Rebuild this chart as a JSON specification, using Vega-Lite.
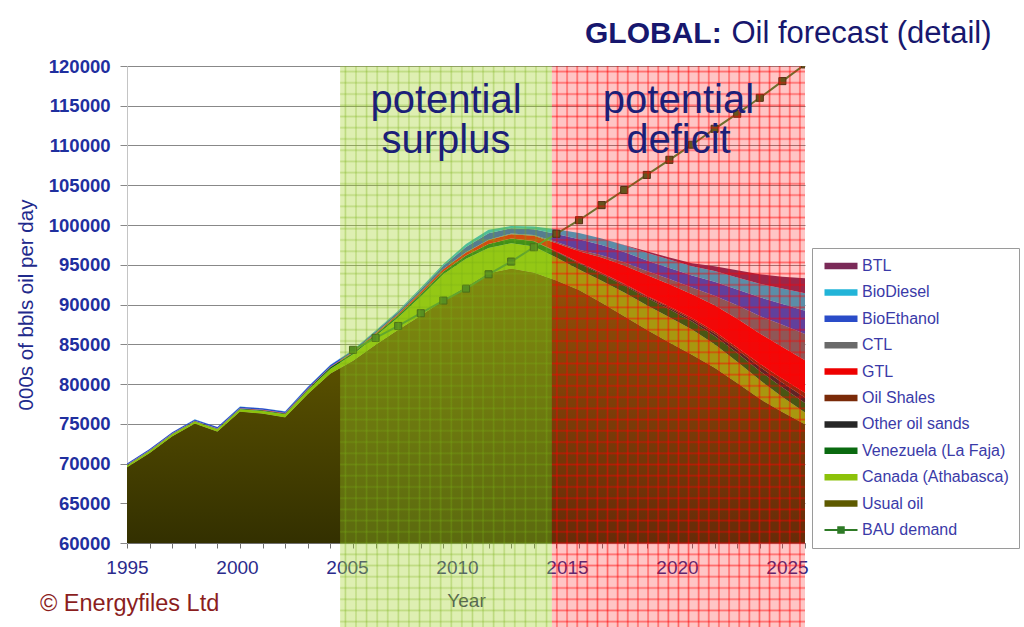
{
  "$schema": "https://vega.github.io/schema/vega-lite/v6.json",
  "width": 678,
  "height": 477,
  "autosize": {"type": "none"},
  "padding": {"left": 127, "top": 66, "right": 219, "bottom": 84},
  "background": "#ffffff",
  "config": {
    "view": {"stroke": null},
    "font": "Liberation Sans",
    "axis": {"labelFont": "Liberation Sans", "titleFont": "Liberation Sans"},
    "legend": {"labelFont": "Liberation Sans"}
  },
  "title": {
    "text": "GLOBAL:",
    "subtitle": "\u200b\u00a0\u00a0\u00a0\u00a0\u00a0\u00a0\u00a0\u00a0\u00a0\u00a0\u00a0\u00a0\u00a0\u00a0\u00a0\u00a0\u00a0Oil forecast (detail)",
    "anchor": "start",
    "frame": "group",
    "dx": 458,
    "offset": 7,
    "font": "Liberation Sans",
    "fontSize": 30,
    "fontWeight": "bold",
    "color": "#17176e",
    "subtitleFont": "Liberation Sans",
    "subtitleFontSize": 31,
    "subtitleFontWeight": "normal",
    "subtitleColor": "#17176e",
    "subtitlePadding": -30
  },
  "resolve": {"axis": {"x": "independent", "y": "independent"}},
  "datasets": {
    "supply": [
      {"year": 1995, "Usual oil": 69500, "Canada (Athabasca)": 250, "Venezuela (La Faja)": 50, "Other oil sands": 0, "Oil Shales": 0, "GTL": 40, "CTL": 0, "BioEthanol": 150, "BioDiesel": 10, "BTL": 0},
      {"year": 1996, "Usual oil": 71300, "Canada (Athabasca)": 260, "Venezuela (La Faja)": 60, "Other oil sands": 0, "Oil Shales": 0, "GTL": 40, "CTL": 0, "BioEthanol": 150, "BioDiesel": 10, "BTL": 0},
      {"year": 1997, "Usual oil": 73400, "Canada (Athabasca)": 270, "Venezuela (La Faja)": 60, "Other oil sands": 0, "Oil Shales": 0, "GTL": 40, "CTL": 0, "BioEthanol": 160, "BioDiesel": 10, "BTL": 0},
      {"year": 1998, "Usual oil": 75000, "Canada (Athabasca)": 280, "Venezuela (La Faja)": 70, "Other oil sands": 0, "Oil Shales": 0, "GTL": 40, "CTL": 0, "BioEthanol": 160, "BioDiesel": 10, "BTL": 0},
      {"year": 1999, "Usual oil": 74000, "Canada (Athabasca)": 300, "Venezuela (La Faja)": 70, "Other oil sands": 0, "Oil Shales": 0, "GTL": 40, "CTL": 0, "BioEthanol": 170, "BioDiesel": 10, "BTL": 0},
      {"year": 2000, "Usual oil": 76500, "Canada (Athabasca)": 330, "Venezuela (La Faja)": 80, "Other oil sands": 0, "Oil Shales": 0, "GTL": 50, "CTL": 0, "BioEthanol": 180, "BioDiesel": 20, "BTL": 0},
      {"year": 2001, "Usual oil": 76250, "Canada (Athabasca)": 360, "Venezuela (La Faja)": 90, "Other oil sands": 0, "Oil Shales": 0, "GTL": 50, "CTL": 0, "BioEthanol": 190, "BioDiesel": 20, "BTL": 0},
      {"year": 2002, "Usual oil": 75800, "Canada (Athabasca)": 400, "Venezuela (La Faja)": 100, "Other oil sands": 0, "Oil Shales": 0, "GTL": 50, "CTL": 0, "BioEthanol": 200, "BioDiesel": 20, "BTL": 0},
      {"year": 2003, "Usual oil": 78700, "Canada (Athabasca)": 500, "Venezuela (La Faja)": 130, "Other oil sands": 0, "Oil Shales": 0, "GTL": 60, "CTL": 0, "BioEthanol": 220, "BioDiesel": 30, "BTL": 0},
      {"year": 2004, "Usual oil": 81300, "Canada (Athabasca)": 600, "Venezuela (La Faja)": 200, "Other oil sands": 0, "Oil Shales": 0, "GTL": 80, "CTL": 0, "BioEthanol": 200, "BioDiesel": 40, "BTL": 0},
      {"year": 2005, "Usual oil": 82900, "Canada (Athabasca)": 800, "Venezuela (La Faja)": 230, "Other oil sands": 0, "Oil Shales": 0, "GTL": 90, "CTL": 0, "BioEthanol": 220, "BioDiesel": 60, "BTL": 0},
      {"year": 2006, "Usual oil": 84900, "Canada (Athabasca)": 1100, "Venezuela (La Faja)": 260, "Other oil sands": 0, "Oil Shales": 0, "GTL": 130, "CTL": 10, "BioEthanol": 250, "BioDiesel": 90, "BTL": 0},
      {"year": 2007, "Usual oil": 86800, "Canada (Athabasca)": 1550, "Venezuela (La Faja)": 290, "Other oil sands": 0, "Oil Shales": 0, "GTL": 170, "CTL": 10, "BioEthanol": 280, "BioDiesel": 120, "BTL": 0},
      {"year": 2008, "Usual oil": 88600, "Canada (Athabasca)": 2400, "Venezuela (La Faja)": 330, "Other oil sands": 0, "Oil Shales": 0, "GTL": 250, "CTL": 20, "BioEthanol": 330, "BioDiesel": 170, "BTL": 0},
      {"year": 2009, "Usual oil": 90500, "Canada (Athabasca)": 3300, "Venezuela (La Faja)": 350, "Other oil sands": 0, "Oil Shales": 0, "GTL": 300, "CTL": 20, "BioEthanol": 400, "BioDiesel": 230, "BTL": 0},
      {"year": 2010, "Usual oil": 92200, "Canada (Athabasca)": 3550, "Venezuela (La Faja)": 400, "Other oil sands": 0, "Oil Shales": 0, "GTL": 400, "CTL": 30, "BioEthanol": 650, "BioDiesel": 370, "BTL": 0},
      {"year": 2011, "Usual oil": 93900, "Canada (Athabasca)": 3200, "Venezuela (La Faja)": 500, "Other oil sands": 0, "Oil Shales": 0, "GTL": 500, "CTL": 50, "BioEthanol": 800, "BioDiesel": 450, "BTL": 0},
      {"year": 2012, "Usual oil": 94500, "Canada (Athabasca)": 3200, "Venezuela (La Faja)": 600, "Other oil sands": 0, "Oil Shales": 0, "GTL": 550, "CTL": 80, "BioEthanol": 650, "BioDiesel": 300, "BTL": 0},
      {"year": 2013, "Usual oil": 94000, "Canada (Athabasca)": 3300, "Venezuela (La Faja)": 650, "Other oil sands": 50, "Oil Shales": 0, "GTL": 650, "CTL": 100, "BioEthanol": 700, "BioDiesel": 350, "BTL": 0},
      {"year": 2014, "Usual oil": 93000, "Canada (Athabasca)": 2900, "Venezuela (La Faja)": 700, "Other oil sands": 80, "Oil Shales": 30, "GTL": 1000, "CTL": 150, "BioEthanol": 1000, "BioDiesel": 600, "BTL": 0},
      {"year": 2015, "Usual oil": 91800, "Canada (Athabasca)": 2600, "Venezuela (La Faja)": 750, "Other oil sands": 100, "Oil Shales": 50, "GTL": 1400, "CTL": 200, "BioEthanol": 1300, "BioDiesel": 800, "BTL": 0},
      {"year": 2016, "Usual oil": 90200, "Canada (Athabasca)": 2800, "Venezuela (La Faja)": 820, "Other oil sands": 110, "Oil Shales": 70, "GTL": 1900, "CTL": 300, "BioEthanol": 1300, "BioDiesel": 800, "BTL": 0},
      {"year": 2017, "Usual oil": 88500, "Canada (Athabasca)": 3000, "Venezuela (La Faja)": 900, "Other oil sands": 120, "Oil Shales": 80, "GTL": 2300, "CTL": 400, "BioEthanol": 1300, "BioDiesel": 850, "BTL": 50},
      {"year": 2018, "Usual oil": 86800, "Canada (Athabasca)": 3100, "Venezuela (La Faja)": 950, "Other oil sands": 150, "Oil Shales": 100, "GTL": 2600, "CTL": 500, "BioEthanol": 1350, "BioDiesel": 950, "BTL": 200},
      {"year": 2019, "Usual oil": 85200, "Canada (Athabasca)": 3200, "Venezuela (La Faja)": 1000, "Other oil sands": 200, "Oil Shales": 150, "GTL": 2800, "CTL": 650, "BioEthanol": 1400, "BioDiesel": 1050, "BTL": 250},
      {"year": 2020, "Usual oil": 83650, "Canada (Athabasca)": 3200, "Venezuela (La Faja)": 1000, "Other oil sands": 250, "Oil Shales": 200, "GTL": 3000, "CTL": 850, "BioEthanol": 1500, "BioDiesel": 1150, "BTL": 400},
      {"year": 2021, "Usual oil": 82000, "Canada (Athabasca)": 3000, "Venezuela (La Faja)": 1050, "Other oil sands": 300, "Oil Shales": 250, "GTL": 3300, "CTL": 1200, "BioEthanol": 1750, "BioDiesel": 1350, "BTL": 600},
      {"year": 2022, "Usual oil": 80100, "Canada (Athabasca)": 2700, "Venezuela (La Faja)": 1100, "Other oil sands": 400, "Oil Shales": 300, "GTL": 3600, "CTL": 1700, "BioEthanol": 2000, "BioDiesel": 1500, "BTL": 900},
      {"year": 2023, "Usual oil": 78100, "Canada (Athabasca)": 2400, "Venezuela (La Faja)": 1150, "Other oil sands": 500, "Oil Shales": 400, "GTL": 3800, "CTL": 2200, "BioEthanol": 2350, "BioDiesel": 1700, "BTL": 1200},
      {"year": 2024, "Usual oil": 76450, "Canada (Athabasca)": 1900, "Venezuela (La Faja)": 1200, "Other oil sands": 600, "Oil Shales": 500, "GTL": 4000, "CTL": 2800, "BioEthanol": 2600, "BioDiesel": 1950, "BTL": 1500},
      {"year": 2025, "Usual oil": 74900, "Canada (Athabasca)": 1500, "Venezuela (La Faja)": 1200, "Other oil sands": 700, "Oil Shales": 600, "GTL": 4100, "CTL": 3300, "BioEthanol": 2900, "BioDiesel": 2200, "BTL": 1900}
    ],
    "demand": [
      {"year": 2005, "demand": 84300}, {"year": 2006, "demand": 85800}, {"year": 2007, "demand": 87300},
      {"year": 2008, "demand": 88900}, {"year": 2009, "demand": 90500}, {"year": 2010, "demand": 92000},
      {"year": 2011, "demand": 93800}, {"year": 2012, "demand": 95400}, {"year": 2013, "demand": 97200},
      {"year": 2014, "demand": 98900}, {"year": 2015, "demand": 100600}, {"year": 2016, "demand": 102500},
      {"year": 2017, "demand": 104400}, {"year": 2018, "demand": 106300}, {"year": 2019, "demand": 108200},
      {"year": 2020, "demand": 110100}, {"year": 2021, "demand": 112100}, {"year": 2022, "demand": 114000},
      {"year": 2023, "demand": 116000}, {"year": 2024, "demand": 118100}, {"year": 2025, "demand": 120200}
    ],
    "zones": [
      {"zone": "surplus", "start": 2004.43, "end": 2013.8, "caption": "potential\nsurplus"},
      {"zone": "deficit", "start": 2013.8, "end": 2025, "caption": "potential\ndeficit"}
    ],
    "credits": [
      {"year": 1991.15, "level": 51450, "note": "© Energyfiles Ltd"}
    ]
  },
  "layer": [
    {
      "data": {"name": "supply"},
      "transform": [
        {"fold": ["Usual oil", "Canada (Athabasca)", "Venezuela (La Faja)", "Other oil sands", "Oil Shales", "GTL", "CTL", "BioEthanol", "BioDiesel", "BTL"], "as": ["source", "value"]},
        {"calculate": "indexof(['Usual oil', 'Canada (Athabasca)', 'Venezuela (La Faja)', 'Other oil sands', 'Oil Shales', 'GTL', 'CTL', 'BioEthanol', 'BioDiesel', 'BTL'], datum.source)", "as": "rank"}
      ],
      "mark": {"type": "area", "clip": true, "opacity": 1, "interpolate": "linear"},
      "encoding": {
        "x": {
          "field": "year", "type": "quantitative",
          "scale": {"domain": [1995, 2025], "nice": false, "zero": false},
          "axis": {
            "title": "Year",
            "values": [1995, 1996, 1997, 1998, 1999, 2000, 2001, 2002, 2003, 2004, 2005, 2006, 2007, 2008, 2009, 2010, 2011, 2012, 2013, 2014, 2015, 2016, 2017, 2018, 2019, 2020, 2021, 2022, 2023, 2024, 2025],
            "format": "d",
            "labelExpr": "datum.value % 5 === 0 ? datum.label : ''",
            "labelOffset": {"expr": "-0.6 * (datum.value - 1995)"},
            "labelOverlap": false,
            "labelFlush": false,
            "labelFontSize": 19,
            "labelColor": "#2b2b8c",
            "labelPadding": 10,
            "tickSize": 5,
            "tickColor": "#707070",
            "domainColor": "#707070",
            "grid": false,
            "titleFontSize": 19,
            "titleFontWeight": "normal",
            "titleColor": "#2b2b6e",
            "titlePadding": 14
          }
        },
        "y": {
          "field": "value", "type": "quantitative", "stack": "zero",
          "scale": {"domain": [60000, 120000], "nice": false, "zero": false},
          "axis": {
            "title": "000s of bbls oil per day",
            "values": [60000, 65000, 70000, 75000, 80000, 85000, 90000, 95000, 100000, 105000, 110000, 115000, 120000],
            "format": "d",
            "labelOverlap": false,
            "grid": true,
            "gridColor": "#888888",
            "gridWidth": 1,
            "tickColor": "#888888",
            "tickSize": 7,
            "domainColor": "#c4c4c4",
            "labelFontSize": 18.5,
            "labelFontWeight": "bold",
            "labelColor": "#1f2f9f",
            "labelPadding": 10,
            "titleFontSize": 20.5,
            "titleFontWeight": "normal",
            "titleColor": "#1f2a8c",
            "titlePadding": 12
          }
        },
        "color": {
          "field": "source", "type": "nominal",
          "scale": {
            "domain": ["BTL", "BioDiesel", "BioEthanol", "CTL", "GTL", "Oil Shales", "Other oil sands", "Venezuela (La Faja)", "Canada (Athabasca)", "Usual oil", "BAU demand"],
            "range": ["#7a2a58", "#22b4d8", "#2a4cc8", "#6a6a6a", "#ee0000", "#7a2a08", "#262626", "#0a6a10", "#8cc20a", "#5e5a00", "#2e7a26"]
          },
          "legend": {
            "orient": "none",
            "legendX": 685,
            "legendY": 182,
            "title": null,
            "labelFontSize": 16,
            "labelColor": "#3a3aa8",
            "labelLimit": 400,
            "labelExpr": "datum.label + '\u00a0\u00a0\u00a0\u00a0\u00a0\u00a0\u00a0\u00a0\u00a0\u00a0\u00a0\u00a0'",
            "symbolSize": 100,
            "symbolStrokeWidth": 0,
            "symbolOpacity": 1,
            "symbolOffset": 11,
            "labelOffset": 13,
            "rowPadding": 10.4,
            "padding": 10,
            "strokeColor": "#9a9a9a",
            "fillColor": "#ffffff",
            "encode": {
              "symbols": {
                "update": {
                  "shape": {"signal": "datum.value === 'BAU demand' ? 'M-3.3,-0.2H3.3V0.2H-3.3Z M-0.75,-0.75H0.75V0.75H-0.75Z' : 'M-3.3,-0.65H3.3V0.65H-3.3Z'"}
                }
              }
            }
          }
        },
        "order": {"field": "rank", "type": "quantitative"}
      }
    },
    {
      "data": {"name": "supply"},
      "mark": {
        "type": "area", "clip": true, "opacity": 1,
        "color": {"gradient": "linear", "x1": 0, "y1": 0, "x2": 0, "y2": 1,
          "stops": [{"offset": 0, "color": "#6e6200"}, {"offset": 1, "color": "#333000"}]}
      },
      "encoding": {
        "x": {"field": "year", "type": "quantitative", "axis": null},
        "y": {"field": "Usual oil", "type": "quantitative", "axis": null},
        "y2": {"datum": 60000}
      }
    },
    {
      "data": {"name": "demand"},
      "mark": {"type": "line", "color": "#3c8c32", "strokeWidth": 2, "clip": true},
      "encoding": {
        "x": {"field": "year", "type": "quantitative", "axis": null},
        "y": {"field": "demand", "type": "quantitative", "axis": null}
      }
    },
    {
      "data": {"name": "demand"},
      "mark": {"type": "point", "shape": "square", "filled": true, "size": 50, "color": "#2e6a1e", "stroke": "#1a3510", "strokeWidth": 1, "opacity": 1, "clip": true},
      "encoding": {
        "x": {"field": "year", "type": "quantitative", "axis": null},
        "y": {"field": "demand", "type": "quantitative", "axis": null}
      }
    },
    {
      "data": {"name": "zones"},
      "mark": {"type": "rect", "clip": false},
      "encoding": {
        "x": {"field": "start", "type": "quantitative", "axis": null},
        "x2": {"field": "end"},
        "y": {"datum": 120000, "axis": null},
        "y2": {"datum": 49400},
        "fill": {"field": "zone", "type": "nominal", "scale": {"domain": ["surplus", "deficit"], "range": ["#a4d42a", "#ff2020"]}, "legend": null},
        "opacity": {"field": "zone", "type": "nominal", "scale": {"domain": ["surplus", "deficit"], "range": [0.36, 0.26]}, "legend": null}
      }
    },
    {
      "data": {"name": "zones"},
      "transform": [{"filter": "datum.zone === 'deficit'"}],
      "mark": {
        "type": "rect", "clip": false,
        "color": {"gradient": "linear", "x1": 0, "y1": 0, "x2": 1, "y2": 0, "stops": [
          {"offset": 0.014, "color": "rgba(255,0,0,0)"}, {"offset": 0.02, "color": "rgba(255,0,0,0.5)"}, {"offset": 0.026, "color": "rgba(255,0,0,0)"},
          {"offset": 0.054, "color": "rgba(255,0,0,0)"}, {"offset": 0.06, "color": "rgba(255,0,0,0.5)"}, {"offset": 0.066, "color": "rgba(255,0,0,0)"},
          {"offset": 0.094, "color": "rgba(255,0,0,0)"}, {"offset": 0.10, "color": "rgba(255,0,0,0.5)"}, {"offset": 0.106, "color": "rgba(255,0,0,0)"},
          {"offset": 0.134, "color": "rgba(255,0,0,0)"}, {"offset": 0.14, "color": "rgba(255,0,0,0.5)"}, {"offset": 0.146, "color": "rgba(255,0,0,0)"},
          {"offset": 0.174, "color": "rgba(255,0,0,0)"}, {"offset": 0.18, "color": "rgba(255,0,0,0.5)"}, {"offset": 0.186, "color": "rgba(255,0,0,0)"},
          {"offset": 0.214, "color": "rgba(255,0,0,0)"}, {"offset": 0.22, "color": "rgba(255,0,0,0.5)"}, {"offset": 0.226, "color": "rgba(255,0,0,0)"},
          {"offset": 0.254, "color": "rgba(255,0,0,0)"}, {"offset": 0.26, "color": "rgba(255,0,0,0.5)"}, {"offset": 0.266, "color": "rgba(255,0,0,0)"},
          {"offset": 0.294, "color": "rgba(255,0,0,0)"}, {"offset": 0.30, "color": "rgba(255,0,0,0.5)"}, {"offset": 0.306, "color": "rgba(255,0,0,0)"},
          {"offset": 0.334, "color": "rgba(255,0,0,0)"}, {"offset": 0.34, "color": "rgba(255,0,0,0.5)"}, {"offset": 0.346, "color": "rgba(255,0,0,0)"},
          {"offset": 0.374, "color": "rgba(255,0,0,0)"}, {"offset": 0.38, "color": "rgba(255,0,0,0.5)"}, {"offset": 0.386, "color": "rgba(255,0,0,0)"},
          {"offset": 0.414, "color": "rgba(255,0,0,0)"}, {"offset": 0.42, "color": "rgba(255,0,0,0.5)"}, {"offset": 0.426, "color": "rgba(255,0,0,0)"},
          {"offset": 0.454, "color": "rgba(255,0,0,0)"}, {"offset": 0.46, "color": "rgba(255,0,0,0.5)"}, {"offset": 0.466, "color": "rgba(255,0,0,0)"},
          {"offset": 0.494, "color": "rgba(255,0,0,0)"}, {"offset": 0.50, "color": "rgba(255,0,0,0.5)"}, {"offset": 0.506, "color": "rgba(255,0,0,0)"},
          {"offset": 0.534, "color": "rgba(255,0,0,0)"}, {"offset": 0.54, "color": "rgba(255,0,0,0.5)"}, {"offset": 0.546, "color": "rgba(255,0,0,0)"},
          {"offset": 0.574, "color": "rgba(255,0,0,0)"}, {"offset": 0.58, "color": "rgba(255,0,0,0.5)"}, {"offset": 0.586, "color": "rgba(255,0,0,0)"},
          {"offset": 0.614, "color": "rgba(255,0,0,0)"}, {"offset": 0.62, "color": "rgba(255,0,0,0.5)"}, {"offset": 0.626, "color": "rgba(255,0,0,0)"},
          {"offset": 0.654, "color": "rgba(255,0,0,0)"}, {"offset": 0.66, "color": "rgba(255,0,0,0.5)"}, {"offset": 0.666, "color": "rgba(255,0,0,0)"},
          {"offset": 0.694, "color": "rgba(255,0,0,0)"}, {"offset": 0.70, "color": "rgba(255,0,0,0.5)"}, {"offset": 0.706, "color": "rgba(255,0,0,0)"},
          {"offset": 0.734, "color": "rgba(255,0,0,0)"}, {"offset": 0.74, "color": "rgba(255,0,0,0.5)"}, {"offset": 0.746, "color": "rgba(255,0,0,0)"},
          {"offset": 0.774, "color": "rgba(255,0,0,0)"}, {"offset": 0.78, "color": "rgba(255,0,0,0.5)"}, {"offset": 0.786, "color": "rgba(255,0,0,0)"},
          {"offset": 0.814, "color": "rgba(255,0,0,0)"}, {"offset": 0.82, "color": "rgba(255,0,0,0.5)"}, {"offset": 0.826, "color": "rgba(255,0,0,0)"},
          {"offset": 0.854, "color": "rgba(255,0,0,0)"}, {"offset": 0.86, "color": "rgba(255,0,0,0.5)"}, {"offset": 0.866, "color": "rgba(255,0,0,0)"},
          {"offset": 0.894, "color": "rgba(255,0,0,0)"}, {"offset": 0.90, "color": "rgba(255,0,0,0.5)"}, {"offset": 0.906, "color": "rgba(255,0,0,0)"},
          {"offset": 0.934, "color": "rgba(255,0,0,0)"}, {"offset": 0.94, "color": "rgba(255,0,0,0.5)"}, {"offset": 0.946, "color": "rgba(255,0,0,0)"},
          {"offset": 0.974, "color": "rgba(255,0,0,0)"}, {"offset": 0.98, "color": "rgba(255,0,0,0.5)"}, {"offset": 0.986, "color": "rgba(255,0,0,0)"}
        ]}
      },
      "encoding": {
        "x": {"field": "start", "type": "quantitative", "axis": null},
        "x2": {"field": "end"},
        "y": {"datum": 120000, "axis": null},
        "y2": {"datum": 49400}
      }
    },
    {
      "data": {"name": "zones"},
      "transform": [{"filter": "datum.zone === 'deficit'"}],
      "mark": {
        "type": "rect", "clip": false,
        "color": {"gradient": "linear", "x1": 0, "y1": 0, "x2": 0, "y2": 1, "stops": [
          {"offset": 0.007, "color": "rgba(255,0,0,0)"}, {"offset": 0.01, "color": "rgba(255,0,0,0.45)"}, {"offset": 0.013, "color": "rgba(255,0,0,0)"},
          {"offset": 0.027, "color": "rgba(255,0,0,0)"}, {"offset": 0.03, "color": "rgba(255,0,0,0.45)"}, {"offset": 0.033, "color": "rgba(255,0,0,0)"},
          {"offset": 0.047, "color": "rgba(255,0,0,0)"}, {"offset": 0.05, "color": "rgba(255,0,0,0.45)"}, {"offset": 0.053, "color": "rgba(255,0,0,0)"},
          {"offset": 0.067, "color": "rgba(255,0,0,0)"}, {"offset": 0.07, "color": "rgba(255,0,0,0.45)"}, {"offset": 0.073, "color": "rgba(255,0,0,0)"},
          {"offset": 0.087, "color": "rgba(255,0,0,0)"}, {"offset": 0.09, "color": "rgba(255,0,0,0.45)"}, {"offset": 0.093, "color": "rgba(255,0,0,0)"},
          {"offset": 0.107, "color": "rgba(255,0,0,0)"}, {"offset": 0.11, "color": "rgba(255,0,0,0.45)"}, {"offset": 0.113, "color": "rgba(255,0,0,0)"},
          {"offset": 0.127, "color": "rgba(255,0,0,0)"}, {"offset": 0.13, "color": "rgba(255,0,0,0.45)"}, {"offset": 0.133, "color": "rgba(255,0,0,0)"},
          {"offset": 0.147, "color": "rgba(255,0,0,0)"}, {"offset": 0.15, "color": "rgba(255,0,0,0.45)"}, {"offset": 0.153, "color": "rgba(255,0,0,0)"},
          {"offset": 0.167, "color": "rgba(255,0,0,0)"}, {"offset": 0.17, "color": "rgba(255,0,0,0.45)"}, {"offset": 0.173, "color": "rgba(255,0,0,0)"},
          {"offset": 0.187, "color": "rgba(255,0,0,0)"}, {"offset": 0.19, "color": "rgba(255,0,0,0.45)"}, {"offset": 0.193, "color": "rgba(255,0,0,0)"},
          {"offset": 0.207, "color": "rgba(255,0,0,0)"}, {"offset": 0.21, "color": "rgba(255,0,0,0.45)"}, {"offset": 0.213, "color": "rgba(255,0,0,0)"},
          {"offset": 0.227, "color": "rgba(255,0,0,0)"}, {"offset": 0.23, "color": "rgba(255,0,0,0.45)"}, {"offset": 0.233, "color": "rgba(255,0,0,0)"},
          {"offset": 0.247, "color": "rgba(255,0,0,0)"}, {"offset": 0.25, "color": "rgba(255,0,0,0.45)"}, {"offset": 0.253, "color": "rgba(255,0,0,0)"},
          {"offset": 0.267, "color": "rgba(255,0,0,0)"}, {"offset": 0.27, "color": "rgba(255,0,0,0.45)"}, {"offset": 0.273, "color": "rgba(255,0,0,0)"},
          {"offset": 0.287, "color": "rgba(255,0,0,0)"}, {"offset": 0.29, "color": "rgba(255,0,0,0.45)"}, {"offset": 0.293, "color": "rgba(255,0,0,0)"},
          {"offset": 0.307, "color": "rgba(255,0,0,0)"}, {"offset": 0.31, "color": "rgba(255,0,0,0.45)"}, {"offset": 0.313, "color": "rgba(255,0,0,0)"},
          {"offset": 0.327, "color": "rgba(255,0,0,0)"}, {"offset": 0.33, "color": "rgba(255,0,0,0.45)"}, {"offset": 0.333, "color": "rgba(255,0,0,0)"},
          {"offset": 0.347, "color": "rgba(255,0,0,0)"}, {"offset": 0.35, "color": "rgba(255,0,0,0.45)"}, {"offset": 0.353, "color": "rgba(255,0,0,0)"},
          {"offset": 0.367, "color": "rgba(255,0,0,0)"}, {"offset": 0.37, "color": "rgba(255,0,0,0.45)"}, {"offset": 0.373, "color": "rgba(255,0,0,0)"},
          {"offset": 0.387, "color": "rgba(255,0,0,0)"}, {"offset": 0.39, "color": "rgba(255,0,0,0.45)"}, {"offset": 0.393, "color": "rgba(255,0,0,0)"},
          {"offset": 0.407, "color": "rgba(255,0,0,0)"}, {"offset": 0.41, "color": "rgba(255,0,0,0.45)"}, {"offset": 0.413, "color": "rgba(255,0,0,0)"},
          {"offset": 0.427, "color": "rgba(255,0,0,0)"}, {"offset": 0.43, "color": "rgba(255,0,0,0.45)"}, {"offset": 0.433, "color": "rgba(255,0,0,0)"},
          {"offset": 0.447, "color": "rgba(255,0,0,0)"}, {"offset": 0.45, "color": "rgba(255,0,0,0.45)"}, {"offset": 0.453, "color": "rgba(255,0,0,0)"},
          {"offset": 0.467, "color": "rgba(255,0,0,0)"}, {"offset": 0.47, "color": "rgba(255,0,0,0.45)"}, {"offset": 0.473, "color": "rgba(255,0,0,0)"},
          {"offset": 0.487, "color": "rgba(255,0,0,0)"}, {"offset": 0.49, "color": "rgba(255,0,0,0.45)"}, {"offset": 0.493, "color": "rgba(255,0,0,0)"},
          {"offset": 0.507, "color": "rgba(255,0,0,0)"}, {"offset": 0.51, "color": "rgba(255,0,0,0.45)"}, {"offset": 0.513, "color": "rgba(255,0,0,0)"},
          {"offset": 0.527, "color": "rgba(255,0,0,0)"}, {"offset": 0.53, "color": "rgba(255,0,0,0.45)"}, {"offset": 0.533, "color": "rgba(255,0,0,0)"},
          {"offset": 0.547, "color": "rgba(255,0,0,0)"}, {"offset": 0.55, "color": "rgba(255,0,0,0.45)"}, {"offset": 0.553, "color": "rgba(255,0,0,0)"},
          {"offset": 0.567, "color": "rgba(255,0,0,0)"}, {"offset": 0.57, "color": "rgba(255,0,0,0.45)"}, {"offset": 0.573, "color": "rgba(255,0,0,0)"},
          {"offset": 0.587, "color": "rgba(255,0,0,0)"}, {"offset": 0.59, "color": "rgba(255,0,0,0.45)"}, {"offset": 0.593, "color": "rgba(255,0,0,0)"},
          {"offset": 0.607, "color": "rgba(255,0,0,0)"}, {"offset": 0.61, "color": "rgba(255,0,0,0.45)"}, {"offset": 0.613, "color": "rgba(255,0,0,0)"},
          {"offset": 0.627, "color": "rgba(255,0,0,0)"}, {"offset": 0.63, "color": "rgba(255,0,0,0.45)"}, {"offset": 0.633, "color": "rgba(255,0,0,0)"},
          {"offset": 0.647, "color": "rgba(255,0,0,0)"}, {"offset": 0.65, "color": "rgba(255,0,0,0.45)"}, {"offset": 0.653, "color": "rgba(255,0,0,0)"},
          {"offset": 0.667, "color": "rgba(255,0,0,0)"}, {"offset": 0.67, "color": "rgba(255,0,0,0.45)"}, {"offset": 0.673, "color": "rgba(255,0,0,0)"},
          {"offset": 0.687, "color": "rgba(255,0,0,0)"}, {"offset": 0.69, "color": "rgba(255,0,0,0.45)"}, {"offset": 0.693, "color": "rgba(255,0,0,0)"},
          {"offset": 0.707, "color": "rgba(255,0,0,0)"}, {"offset": 0.71, "color": "rgba(255,0,0,0.45)"}, {"offset": 0.713, "color": "rgba(255,0,0,0)"},
          {"offset": 0.727, "color": "rgba(255,0,0,0)"}, {"offset": 0.73, "color": "rgba(255,0,0,0.45)"}, {"offset": 0.733, "color": "rgba(255,0,0,0)"},
          {"offset": 0.747, "color": "rgba(255,0,0,0)"}, {"offset": 0.75, "color": "rgba(255,0,0,0.45)"}, {"offset": 0.753, "color": "rgba(255,0,0,0)"},
          {"offset": 0.767, "color": "rgba(255,0,0,0)"}, {"offset": 0.77, "color": "rgba(255,0,0,0.45)"}, {"offset": 0.773, "color": "rgba(255,0,0,0)"},
          {"offset": 0.787, "color": "rgba(255,0,0,0)"}, {"offset": 0.79, "color": "rgba(255,0,0,0.45)"}, {"offset": 0.793, "color": "rgba(255,0,0,0)"},
          {"offset": 0.807, "color": "rgba(255,0,0,0)"}, {"offset": 0.81, "color": "rgba(255,0,0,0.45)"}, {"offset": 0.813, "color": "rgba(255,0,0,0)"},
          {"offset": 0.827, "color": "rgba(255,0,0,0)"}, {"offset": 0.83, "color": "rgba(255,0,0,0.45)"}, {"offset": 0.833, "color": "rgba(255,0,0,0)"},
          {"offset": 0.847, "color": "rgba(255,0,0,0)"}, {"offset": 0.85, "color": "rgba(255,0,0,0.45)"}, {"offset": 0.853, "color": "rgba(255,0,0,0)"},
          {"offset": 0.867, "color": "rgba(255,0,0,0)"}, {"offset": 0.87, "color": "rgba(255,0,0,0.45)"}, {"offset": 0.873, "color": "rgba(255,0,0,0)"},
          {"offset": 0.887, "color": "rgba(255,0,0,0)"}, {"offset": 0.89, "color": "rgba(255,0,0,0.45)"}, {"offset": 0.893, "color": "rgba(255,0,0,0)"},
          {"offset": 0.907, "color": "rgba(255,0,0,0)"}, {"offset": 0.91, "color": "rgba(255,0,0,0.45)"}, {"offset": 0.913, "color": "rgba(255,0,0,0)"},
          {"offset": 0.927, "color": "rgba(255,0,0,0)"}, {"offset": 0.93, "color": "rgba(255,0,0,0.45)"}, {"offset": 0.933, "color": "rgba(255,0,0,0)"},
          {"offset": 0.947, "color": "rgba(255,0,0,0)"}, {"offset": 0.95, "color": "rgba(255,0,0,0.45)"}, {"offset": 0.953, "color": "rgba(255,0,0,0)"},
          {"offset": 0.967, "color": "rgba(255,0,0,0)"}, {"offset": 0.97, "color": "rgba(255,0,0,0.45)"}, {"offset": 0.973, "color": "rgba(255,0,0,0)"},
          {"offset": 0.987, "color": "rgba(255,0,0,0)"}, {"offset": 0.99, "color": "rgba(255,0,0,0.45)"}, {"offset": 0.993, "color": "rgba(255,0,0,0)"}
        ]}
      },
      "encoding": {
        "x": {"field": "start", "type": "quantitative", "axis": null},
        "x2": {"field": "end"},
        "y": {"datum": 120000, "axis": null},
        "y2": {"datum": 49400}
      }
    },
    {
      "data": {"name": "zones"},
      "transform": [{"filter": "datum.zone === 'surplus'"}],
      "mark": {
        "type": "rect", "clip": false,
        "color": {"gradient": "linear", "x1": 0, "y1": 0, "x2": 1, "y2": 0, "stops": [
          {"offset": 0.018, "color": "rgba(120,175,20,0)"}, {"offset": 0.025, "color": "rgba(120,175,20,0.35)"}, {"offset": 0.032, "color": "rgba(120,175,20,0)"},
          {"offset": 0.068, "color": "rgba(120,175,20,0)"}, {"offset": 0.075, "color": "rgba(120,175,20,0.35)"}, {"offset": 0.082, "color": "rgba(120,175,20,0)"},
          {"offset": 0.118, "color": "rgba(120,175,20,0)"}, {"offset": 0.125, "color": "rgba(120,175,20,0.35)"}, {"offset": 0.132, "color": "rgba(120,175,20,0)"},
          {"offset": 0.168, "color": "rgba(120,175,20,0)"}, {"offset": 0.175, "color": "rgba(120,175,20,0.35)"}, {"offset": 0.182, "color": "rgba(120,175,20,0)"},
          {"offset": 0.218, "color": "rgba(120,175,20,0)"}, {"offset": 0.225, "color": "rgba(120,175,20,0.35)"}, {"offset": 0.232, "color": "rgba(120,175,20,0)"},
          {"offset": 0.268, "color": "rgba(120,175,20,0)"}, {"offset": 0.275, "color": "rgba(120,175,20,0.35)"}, {"offset": 0.282, "color": "rgba(120,175,20,0)"},
          {"offset": 0.318, "color": "rgba(120,175,20,0)"}, {"offset": 0.325, "color": "rgba(120,175,20,0.35)"}, {"offset": 0.332, "color": "rgba(120,175,20,0)"},
          {"offset": 0.368, "color": "rgba(120,175,20,0)"}, {"offset": 0.375, "color": "rgba(120,175,20,0.35)"}, {"offset": 0.382, "color": "rgba(120,175,20,0)"},
          {"offset": 0.418, "color": "rgba(120,175,20,0)"}, {"offset": 0.425, "color": "rgba(120,175,20,0.35)"}, {"offset": 0.432, "color": "rgba(120,175,20,0)"},
          {"offset": 0.468, "color": "rgba(120,175,20,0)"}, {"offset": 0.475, "color": "rgba(120,175,20,0.35)"}, {"offset": 0.482, "color": "rgba(120,175,20,0)"},
          {"offset": 0.518, "color": "rgba(120,175,20,0)"}, {"offset": 0.525, "color": "rgba(120,175,20,0.35)"}, {"offset": 0.532, "color": "rgba(120,175,20,0)"},
          {"offset": 0.568, "color": "rgba(120,175,20,0)"}, {"offset": 0.575, "color": "rgba(120,175,20,0.35)"}, {"offset": 0.582, "color": "rgba(120,175,20,0)"},
          {"offset": 0.618, "color": "rgba(120,175,20,0)"}, {"offset": 0.625, "color": "rgba(120,175,20,0.35)"}, {"offset": 0.632, "color": "rgba(120,175,20,0)"},
          {"offset": 0.668, "color": "rgba(120,175,20,0)"}, {"offset": 0.675, "color": "rgba(120,175,20,0.35)"}, {"offset": 0.682, "color": "rgba(120,175,20,0)"},
          {"offset": 0.718, "color": "rgba(120,175,20,0)"}, {"offset": 0.725, "color": "rgba(120,175,20,0.35)"}, {"offset": 0.732, "color": "rgba(120,175,20,0)"},
          {"offset": 0.768, "color": "rgba(120,175,20,0)"}, {"offset": 0.775, "color": "rgba(120,175,20,0.35)"}, {"offset": 0.782, "color": "rgba(120,175,20,0)"},
          {"offset": 0.818, "color": "rgba(120,175,20,0)"}, {"offset": 0.825, "color": "rgba(120,175,20,0.35)"}, {"offset": 0.832, "color": "rgba(120,175,20,0)"},
          {"offset": 0.868, "color": "rgba(120,175,20,0)"}, {"offset": 0.875, "color": "rgba(120,175,20,0.35)"}, {"offset": 0.882, "color": "rgba(120,175,20,0)"},
          {"offset": 0.918, "color": "rgba(120,175,20,0)"}, {"offset": 0.925, "color": "rgba(120,175,20,0.35)"}, {"offset": 0.932, "color": "rgba(120,175,20,0)"},
          {"offset": 0.968, "color": "rgba(120,175,20,0)"}, {"offset": 0.975, "color": "rgba(120,175,20,0.35)"}, {"offset": 0.982, "color": "rgba(120,175,20,0)"}
        ]}
      },
      "encoding": {
        "x": {"field": "start", "type": "quantitative", "axis": null},
        "x2": {"field": "end"},
        "y": {"datum": 120000, "axis": null},
        "y2": {"datum": 49400}
      }
    },
    {
      "data": {"name": "zones"},
      "transform": [{"filter": "datum.zone === 'surplus'"}],
      "mark": {
        "type": "rect", "clip": false,
        "color": {"gradient": "linear", "x1": 0, "y1": 0, "x2": 0, "y2": 1, "stops": [
          {"offset": 0.007, "color": "rgba(120,175,20,0)"}, {"offset": 0.01, "color": "rgba(120,175,20,0.3)"}, {"offset": 0.013, "color": "rgba(120,175,20,0)"},
          {"offset": 0.027, "color": "rgba(120,175,20,0)"}, {"offset": 0.03, "color": "rgba(120,175,20,0.3)"}, {"offset": 0.033, "color": "rgba(120,175,20,0)"},
          {"offset": 0.047, "color": "rgba(120,175,20,0)"}, {"offset": 0.05, "color": "rgba(120,175,20,0.3)"}, {"offset": 0.053, "color": "rgba(120,175,20,0)"},
          {"offset": 0.067, "color": "rgba(120,175,20,0)"}, {"offset": 0.07, "color": "rgba(120,175,20,0.3)"}, {"offset": 0.073, "color": "rgba(120,175,20,0)"},
          {"offset": 0.087, "color": "rgba(120,175,20,0)"}, {"offset": 0.09, "color": "rgba(120,175,20,0.3)"}, {"offset": 0.093, "color": "rgba(120,175,20,0)"},
          {"offset": 0.107, "color": "rgba(120,175,20,0)"}, {"offset": 0.11, "color": "rgba(120,175,20,0.3)"}, {"offset": 0.113, "color": "rgba(120,175,20,0)"},
          {"offset": 0.127, "color": "rgba(120,175,20,0)"}, {"offset": 0.13, "color": "rgba(120,175,20,0.3)"}, {"offset": 0.133, "color": "rgba(120,175,20,0)"},
          {"offset": 0.147, "color": "rgba(120,175,20,0)"}, {"offset": 0.15, "color": "rgba(120,175,20,0.3)"}, {"offset": 0.153, "color": "rgba(120,175,20,0)"},
          {"offset": 0.167, "color": "rgba(120,175,20,0)"}, {"offset": 0.17, "color": "rgba(120,175,20,0.3)"}, {"offset": 0.173, "color": "rgba(120,175,20,0)"},
          {"offset": 0.187, "color": "rgba(120,175,20,0)"}, {"offset": 0.19, "color": "rgba(120,175,20,0.3)"}, {"offset": 0.193, "color": "rgba(120,175,20,0)"},
          {"offset": 0.207, "color": "rgba(120,175,20,0)"}, {"offset": 0.21, "color": "rgba(120,175,20,0.3)"}, {"offset": 0.213, "color": "rgba(120,175,20,0)"},
          {"offset": 0.227, "color": "rgba(120,175,20,0)"}, {"offset": 0.23, "color": "rgba(120,175,20,0.3)"}, {"offset": 0.233, "color": "rgba(120,175,20,0)"},
          {"offset": 0.247, "color": "rgba(120,175,20,0)"}, {"offset": 0.25, "color": "rgba(120,175,20,0.3)"}, {"offset": 0.253, "color": "rgba(120,175,20,0)"},
          {"offset": 0.267, "color": "rgba(120,175,20,0)"}, {"offset": 0.27, "color": "rgba(120,175,20,0.3)"}, {"offset": 0.273, "color": "rgba(120,175,20,0)"},
          {"offset": 0.287, "color": "rgba(120,175,20,0)"}, {"offset": 0.29, "color": "rgba(120,175,20,0.3)"}, {"offset": 0.293, "color": "rgba(120,175,20,0)"},
          {"offset": 0.307, "color": "rgba(120,175,20,0)"}, {"offset": 0.31, "color": "rgba(120,175,20,0.3)"}, {"offset": 0.313, "color": "rgba(120,175,20,0)"},
          {"offset": 0.327, "color": "rgba(120,175,20,0)"}, {"offset": 0.33, "color": "rgba(120,175,20,0.3)"}, {"offset": 0.333, "color": "rgba(120,175,20,0)"},
          {"offset": 0.347, "color": "rgba(120,175,20,0)"}, {"offset": 0.35, "color": "rgba(120,175,20,0.3)"}, {"offset": 0.353, "color": "rgba(120,175,20,0)"},
          {"offset": 0.367, "color": "rgba(120,175,20,0)"}, {"offset": 0.37, "color": "rgba(120,175,20,0.3)"}, {"offset": 0.373, "color": "rgba(120,175,20,0)"},
          {"offset": 0.387, "color": "rgba(120,175,20,0)"}, {"offset": 0.39, "color": "rgba(120,175,20,0.3)"}, {"offset": 0.393, "color": "rgba(120,175,20,0)"},
          {"offset": 0.407, "color": "rgba(120,175,20,0)"}, {"offset": 0.41, "color": "rgba(120,175,20,0.3)"}, {"offset": 0.413, "color": "rgba(120,175,20,0)"},
          {"offset": 0.427, "color": "rgba(120,175,20,0)"}, {"offset": 0.43, "color": "rgba(120,175,20,0.3)"}, {"offset": 0.433, "color": "rgba(120,175,20,0)"},
          {"offset": 0.447, "color": "rgba(120,175,20,0)"}, {"offset": 0.45, "color": "rgba(120,175,20,0.3)"}, {"offset": 0.453, "color": "rgba(120,175,20,0)"},
          {"offset": 0.467, "color": "rgba(120,175,20,0)"}, {"offset": 0.47, "color": "rgba(120,175,20,0.3)"}, {"offset": 0.473, "color": "rgba(120,175,20,0)"},
          {"offset": 0.487, "color": "rgba(120,175,20,0)"}, {"offset": 0.49, "color": "rgba(120,175,20,0.3)"}, {"offset": 0.493, "color": "rgba(120,175,20,0)"},
          {"offset": 0.507, "color": "rgba(120,175,20,0)"}, {"offset": 0.51, "color": "rgba(120,175,20,0.3)"}, {"offset": 0.513, "color": "rgba(120,175,20,0)"},
          {"offset": 0.527, "color": "rgba(120,175,20,0)"}, {"offset": 0.53, "color": "rgba(120,175,20,0.3)"}, {"offset": 0.533, "color": "rgba(120,175,20,0)"},
          {"offset": 0.547, "color": "rgba(120,175,20,0)"}, {"offset": 0.55, "color": "rgba(120,175,20,0.3)"}, {"offset": 0.553, "color": "rgba(120,175,20,0)"},
          {"offset": 0.567, "color": "rgba(120,175,20,0)"}, {"offset": 0.57, "color": "rgba(120,175,20,0.3)"}, {"offset": 0.573, "color": "rgba(120,175,20,0)"},
          {"offset": 0.587, "color": "rgba(120,175,20,0)"}, {"offset": 0.59, "color": "rgba(120,175,20,0.3)"}, {"offset": 0.593, "color": "rgba(120,175,20,0)"},
          {"offset": 0.607, "color": "rgba(120,175,20,0)"}, {"offset": 0.61, "color": "rgba(120,175,20,0.3)"}, {"offset": 0.613, "color": "rgba(120,175,20,0)"},
          {"offset": 0.627, "color": "rgba(120,175,20,0)"}, {"offset": 0.63, "color": "rgba(120,175,20,0.3)"}, {"offset": 0.633, "color": "rgba(120,175,20,0)"},
          {"offset": 0.647, "color": "rgba(120,175,20,0)"}, {"offset": 0.65, "color": "rgba(120,175,20,0.3)"}, {"offset": 0.653, "color": "rgba(120,175,20,0)"},
          {"offset": 0.667, "color": "rgba(120,175,20,0)"}, {"offset": 0.67, "color": "rgba(120,175,20,0.3)"}, {"offset": 0.673, "color": "rgba(120,175,20,0)"},
          {"offset": 0.687, "color": "rgba(120,175,20,0)"}, {"offset": 0.69, "color": "rgba(120,175,20,0.3)"}, {"offset": 0.693, "color": "rgba(120,175,20,0)"},
          {"offset": 0.707, "color": "rgba(120,175,20,0)"}, {"offset": 0.71, "color": "rgba(120,175,20,0.3)"}, {"offset": 0.713, "color": "rgba(120,175,20,0)"},
          {"offset": 0.727, "color": "rgba(120,175,20,0)"}, {"offset": 0.73, "color": "rgba(120,175,20,0.3)"}, {"offset": 0.733, "color": "rgba(120,175,20,0)"},
          {"offset": 0.747, "color": "rgba(120,175,20,0)"}, {"offset": 0.75, "color": "rgba(120,175,20,0.3)"}, {"offset": 0.753, "color": "rgba(120,175,20,0)"},
          {"offset": 0.767, "color": "rgba(120,175,20,0)"}, {"offset": 0.77, "color": "rgba(120,175,20,0.3)"}, {"offset": 0.773, "color": "rgba(120,175,20,0)"},
          {"offset": 0.787, "color": "rgba(120,175,20,0)"}, {"offset": 0.79, "color": "rgba(120,175,20,0.3)"}, {"offset": 0.793, "color": "rgba(120,175,20,0)"},
          {"offset": 0.807, "color": "rgba(120,175,20,0)"}, {"offset": 0.81, "color": "rgba(120,175,20,0.3)"}, {"offset": 0.813, "color": "rgba(120,175,20,0)"},
          {"offset": 0.827, "color": "rgba(120,175,20,0)"}, {"offset": 0.83, "color": "rgba(120,175,20,0.3)"}, {"offset": 0.833, "color": "rgba(120,175,20,0)"},
          {"offset": 0.847, "color": "rgba(120,175,20,0)"}, {"offset": 0.85, "color": "rgba(120,175,20,0.3)"}, {"offset": 0.853, "color": "rgba(120,175,20,0)"},
          {"offset": 0.867, "color": "rgba(120,175,20,0)"}, {"offset": 0.87, "color": "rgba(120,175,20,0.3)"}, {"offset": 0.873, "color": "rgba(120,175,20,0)"},
          {"offset": 0.887, "color": "rgba(120,175,20,0)"}, {"offset": 0.89, "color": "rgba(120,175,20,0.3)"}, {"offset": 0.893, "color": "rgba(120,175,20,0)"},
          {"offset": 0.907, "color": "rgba(120,175,20,0)"}, {"offset": 0.91, "color": "rgba(120,175,20,0.3)"}, {"offset": 0.913, "color": "rgba(120,175,20,0)"},
          {"offset": 0.927, "color": "rgba(120,175,20,0)"}, {"offset": 0.93, "color": "rgba(120,175,20,0.3)"}, {"offset": 0.933, "color": "rgba(120,175,20,0)"},
          {"offset": 0.947, "color": "rgba(120,175,20,0)"}, {"offset": 0.95, "color": "rgba(120,175,20,0.3)"}, {"offset": 0.953, "color": "rgba(120,175,20,0)"},
          {"offset": 0.967, "color": "rgba(120,175,20,0)"}, {"offset": 0.97, "color": "rgba(120,175,20,0.3)"}, {"offset": 0.973, "color": "rgba(120,175,20,0)"},
          {"offset": 0.987, "color": "rgba(120,175,20,0)"}, {"offset": 0.99, "color": "rgba(120,175,20,0.3)"}, {"offset": 0.993, "color": "rgba(120,175,20,0)"}
        ]}
      },
      "encoding": {
        "x": {"field": "start", "type": "quantitative", "axis": null},
        "x2": {"field": "end"},
        "y": {"datum": 120000, "axis": null},
        "y2": {"datum": 49400}
      }
    },
    {
      "data": {"name": "zones"},
      "transform": [{"calculate": "(datum.start + datum.end) / 2", "as": "mid"}],
      "mark": {"type": "text", "fontSize": 40, "color": "#1c1f78", "align": "center", "baseline": "alphabetic", "lineBreak": "\n", "lineHeight": 40},
      "encoding": {
        "x": {"field": "mid", "type": "quantitative", "axis": null},
        "y": {"datum": 114100, "axis": null},
        "text": {"field": "caption"}
      }
    },
    {
      "data": {"name": "credits"},
      "mark": {"type": "text", "align": "left", "baseline": "alphabetic", "fontSize": 23.5, "color": "#8b1e1e", "clip": false},
      "encoding": {
        "x": {"field": "year", "type": "quantitative", "axis": null},
        "y": {"field": "level", "type": "quantitative", "axis": null},
        "text": {"field": "note"}
      }
    }
  ]
}
